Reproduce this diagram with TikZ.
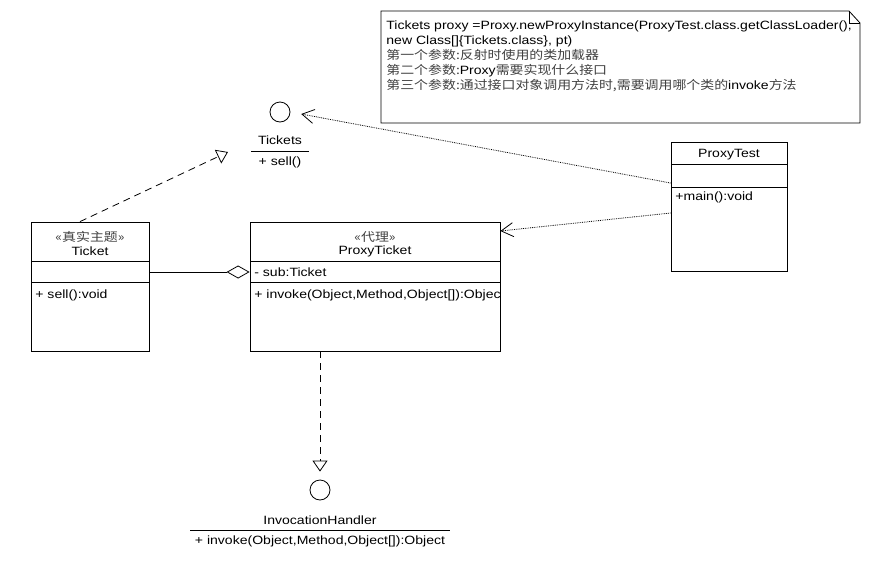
\documentclass[tikz,border=0pt]{standalone}
\usepackage{fontspec}
\setmainfont[FakeStretch=1.17]{Liberation Sans}
\newfontfamily\cjk[FakeStretch=1.16]{Noto Sans CJK SC}
\usetikzlibrary{arrows.meta}
\newcommand{\zh}[1]{{\cjk\color{black!75}#1}}
\tikzset{
 umltext/.style={inner sep=0pt, font=\fontsize{12}{15}\selectfont},
 classbox/.style={draw, rectangle, minimum height=129pt, inner sep=0pt},
 iface/.style={draw, circle, minimum size=20pt, inner sep=0pt},
 realize/.style={dash pattern=on 7pt off 5pt, arrows={-Triangle[open,length=11pt,width=15pt]}},
 depend/.style={densely dotted, arrows={-Straight Barb[length=12pt,width=14pt]}},
 aggr/.style={arrows={-Diamond[open,length=23pt,width=13pt]}}
}
\begin{document}
\begin{tikzpicture}[x=1pt,y=-1pt,line width=0.8pt]
\useasboundingbox (0,0) rectangle (892,560);
% note
\draw (381,11) -- (849,11) -- (860,23) -- (860,123) -- (381,123) -- cycle;
\draw (849,11) -- (849,23) -- (860,23);
\node[umltext, anchor=north west, align=left] (note) at (386,20.5)
 {Tickets proxy =Proxy.newProxyInstance(ProxyTest.class.getClassLoader(),\\
  new Class[]\{Tickets.class\}, pt)\\
  \zh{第一个参数:反射时使用的类加载器}\\
  \zh{第二个参数:}Proxy\zh{需要实现什么接口}\\
  \zh{第三个参数:通过接口对象调用方法时,需要调用哪个类的}invoke\zh{方法}};
% interfaces
\node[iface] (tickets) at (280,112) {};
\node[umltext] (ticketsname) at (280,140) {Tickets};
\draw (251,151) -- (309,151);
\node[umltext] (ticketsop) at (280,162) {+ sell()};
\node[iface] (handler) at (320,490) {};
\node[umltext] (handlername) at (320,520) {InvocationHandler};
\draw (190,530) -- (450,530);
\node[umltext] (handlerop) at (320,541) {+ invoke(Object,Method,Object[]):Object};
% classes
\node[classbox, minimum width=118pt] (ticket) at (90,286.5) {};
\node[classbox, minimum width=250pt] (proxy) at (375,286.5) {};
\node[classbox, minimum width=116pt] (test) at (729,206.5) {};
\foreach \y in {261,282} {
  \draw (31,\y) -- (149,\y);
  \draw (250,\y) -- (500,\y);
}
\foreach \y in {164,187}
  \draw (671,\y) -- (787,\y);
\node[umltext] (ticketst) at (90,237) {\zh{«真实主题»}};
\node[umltext] (ticketname) at (90,251) {Ticket};
\node[umltext, anchor=west] (ticketop) at (35,295) {+ sell():void};
\node[umltext] (proxyst) at (375,237) {\zh{«代理»}};
\node[umltext] (proxyname) at (375,251) {ProxyTicket};
\node[umltext, anchor=west] (proxyattr) at (254,272) {- sub:Ticket};
\begin{scope}
\clip (250,282) rectangle (499,351);
\node[umltext, anchor=west] (proxyop) at (254,295) {+ invoke(Object,Method,Object[]):Object};
\end{scope}
\node[umltext] (testname) at (729,155) {ProxyTest};
\node[umltext, anchor=west] (testop) at (675,197) {+main():void};
% relations
\coordinate (ticketsbase) at (228,152);
\draw[realize] ([xshift=-10pt]ticket.north) -- (ticketsbase);
\draw[realize, shorten >=8pt] ([xshift=-55pt]proxy.south) -- (handler.north);
\draw[aggr] (ticket.east |- proxyattr) -- (proxy.west |- proxyattr);
\draw[depend, shorten >=11pt] ([yshift=23.5pt]test.west) -- (tickets.east);
\draw[depend] ([yshift=-6.5pt]test.west) -- ([yshift=55.5pt]proxy.east);
\end{tikzpicture}
\end{document}
